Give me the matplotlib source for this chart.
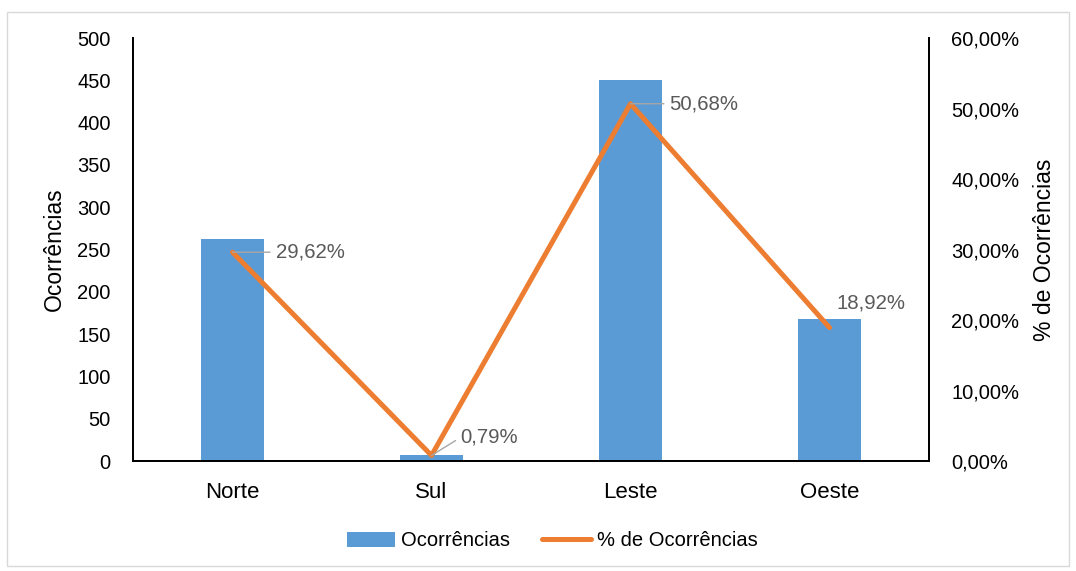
import matplotlib
matplotlib.use('Agg')
import matplotlib.pyplot as plt
from matplotlib.patches import Rectangle
from matplotlib.ticker import FuncFormatter

plt.rcParams['font.family'] = ['Liberation Sans', 'DejaVu Sans']

# dados
regioes = ['Norte', 'Sul', 'Leste', 'Oeste']
ocorrencias = [263, 7, 450, 168]
percentuais = [29.62, 0.79, 50.68, 18.92]
rotulos_pct = ['29,62%', '0,79%', '50,68%', '18,92%']

cor_barra = '#5B9BD5'
cor_linha = '#ED7D31'
cor_rotulo = '#595959'

fig = plt.figure(figsize=(10.76, 5.71), dpi=100)
ax = fig.add_axes([0.1236, 0.1926, 0.7398, 0.7408])
ax2 = ax.twinx()

x = range(len(regioes))
ax.bar(x, ocorrencias, width=0.32, color=cor_barra, label='Ocorrências', zorder=2)
linha, = ax2.plot(x, percentuais, color=cor_linha, lw=3.6, solid_capstyle='round',
                  solid_joinstyle='round', label='% de Ocorrências', zorder=3)

ax.set_xlim(-0.5, 3.5)
ax.set_ylim(0, 500)
ax.set_yticks(range(0, 501, 50))
ax2.set_ylim(0, 60)
ax2.set_yticks(range(0, 61, 10))
ax2.yaxis.set_major_formatter(FuncFormatter(lambda v, p: f'{v:.2f}%'.replace('.', ',')))

ax.set_xticks(list(x))
ax.set_xticklabels(regioes)

for a in (ax, ax2):
    a.tick_params(axis='y', length=0, labelsize=14.5, pad=16)
    a.spines['top'].set_visible(False)
    for s in ('left', 'right', 'bottom'):
        a.spines[s].set_linewidth(1.3)
        a.spines[s].set_color('black')
ax.tick_params(axis='x', length=0, labelsize=16, pad=15)
ax2.set_zorder(ax.get_zorder() + 1)
ax2.patch.set_visible(False)

ax.set_ylabel('Ocorrências', fontsize=16.5, labelpad=8)
ax2.set_ylabel('% de Ocorrências', fontsize=16.5, rotation=90, labelpad=10)

# rótulos de dados (deslocamento em pontos)
offsets = [(31, 0), (21, 13), (28, 0), (5, 18)]
leader = [True, True, True, False]
for i, (p, txt) in enumerate(zip(percentuais, rotulos_pct)):
    kw = {}
    if leader[i]:
        kw['arrowprops'] = dict(arrowstyle='-', color='#A6A6A6', lw=1,
                                shrinkA=2, shrinkB=0, relpos=(0, 0.5))
    ax2.annotate(txt, (i, p), xytext=offsets[i], textcoords='offset points',
                 ha='left', va='center', fontsize=14.7, color=cor_rotulo, **kw)

handles = [ax.patches[0], linha]
fig.legend(handles, ['Ocorrências', '% de Ocorrências'], loc='center',
           bbox_to_anchor=(552 / 1076, 1 - 541 / 571), ncol=2, frameon=False,
           fontsize=14.5, handlelength=2.4, columnspacing=1.6, handletextpad=0.3)

fig.patches.append(Rectangle((7 / 1076, 1 - 566 / 571), 1062 / 1076, 554 / 571,
                             transform=fig.transFigure, fill=False,
                             edgecolor='#D9D9D9', lw=1))

fig.savefig('out.png', dpi=100)
